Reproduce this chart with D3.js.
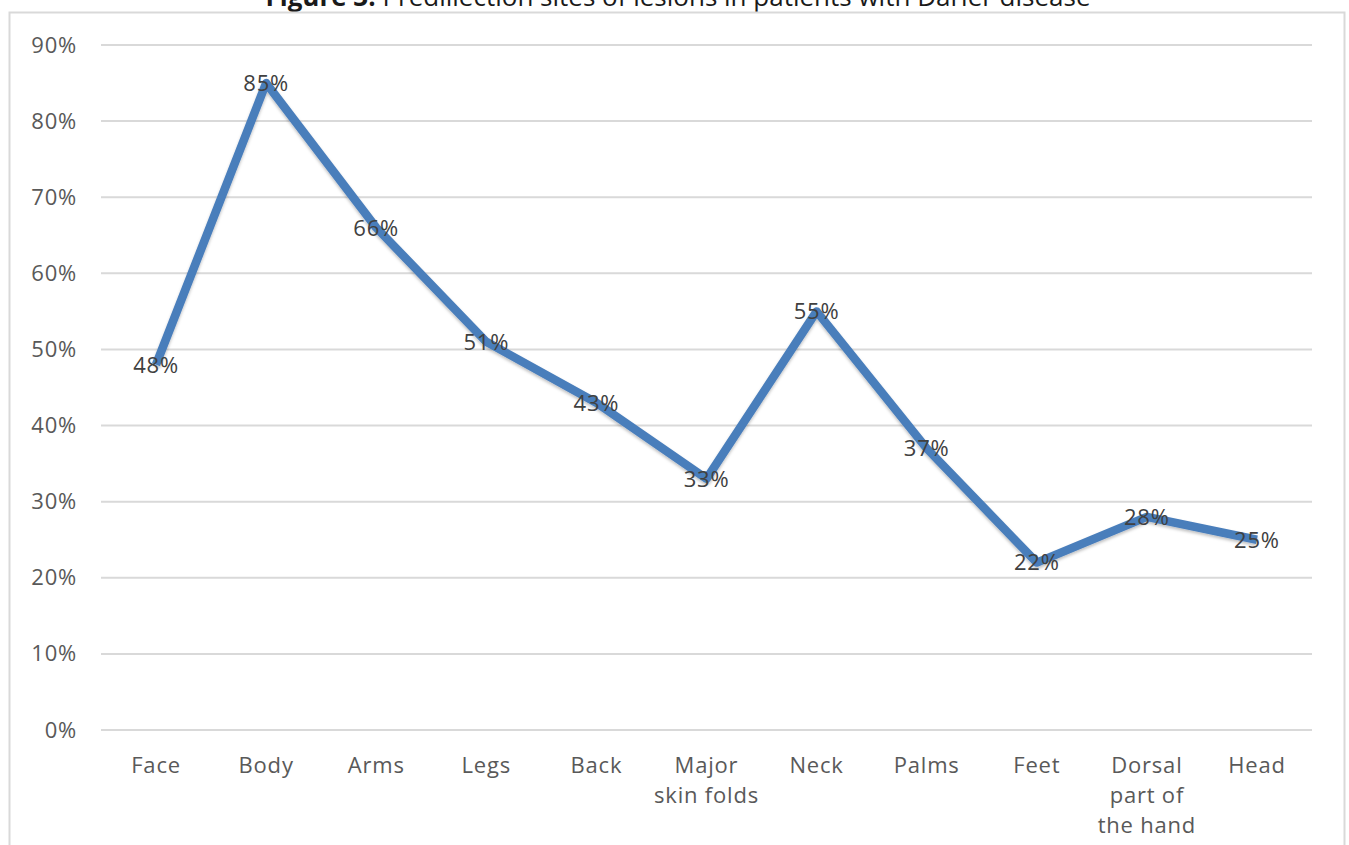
<!DOCTYPE html>
<html>
<head>
<meta charset="utf-8">
<script src="https://cdn.jsdelivr.net/npm/d3@7"></script>
<style>
  html, body { margin: 0; padding: 0; background: #fff; }
  svg { display: block; }
</style>
</head>
<body>
<svg id="chart" width="1349" height="845"></svg>
<script>
// Lesion sites (multi-line labels split on "|")
const categories = ["Face", "Body", "Arms", "Legs", "Back", "Major|skin folds", "Neck", "Palms", "Feet", "Dorsal|part of|the hand", "Head"];
const shares = [0.48, 0.85, 0.66, 0.51, 0.43, 0.33, 0.55, 0.37, 0.22, 0.28, 0.25];
const yTicks = [0, 0.1, 0.2, 0.3, 0.4, 0.5, 0.6, 0.7, 0.8, 0.9];

const svg = d3.select("#chart");
const font = "'Open Sans', 'DejaVu Sans', sans-serif";
const labelSize = 22;
const spacing = 0.8;

// Title (partly above the visible area)
const title = svg.append("text")
  .attr("x", 678).attr("y", 6)
  .attr("text-anchor", "middle")
  .attr("font-family", font)
  .attr("font-size", 26)
  .attr("fill", "#1a1a1a");
title.append("tspan").attr("font-weight", "bold").text("Figure 3.");
title.append("tspan").text(" Prediliection sites of lesions in patients with Darier disease");

// Chart frame
svg.append("rect")
  .attr("x", 9.5).attr("y", 12.5)
  .attr("width", 1335).attr("height", 900)
  .attr("fill", "none")
  .attr("stroke", "#d9d9d9")
  .attr("stroke-width", 2);

const x = d3.scaleBand().domain(categories).range([101, 1312]);
const y = d3.scaleLinear().domain([0, 0.9]).range([730, 45]);

// Horizontal gridlines
svg.append("g")
  .selectAll("line")
  .data(yTicks)
  .join("line")
  .attr("x1", 101).attr("x2", 1312)
  .attr("y1", d => y(d)).attr("y2", d => y(d))
  .attr("stroke", "#d9d9d9")
  .attr("stroke-width", 2);

// Y axis labels
const yAxis = svg.append("g")
  .attr("transform", "translate(86,0)")
  .call(d3.axisLeft(y).tickValues(yTicks).tickFormat(d3.format(".0%")).tickSize(0).tickPadding(9));
yAxis.select(".domain").remove();
yAxis.selectAll("text")
  .attr("font-family", font)
  .attr("font-size", labelSize)
  .attr("letter-spacing", spacing)
  .attr("fill", "#595959");

// X axis labels (wrapped)
const xAxis = svg.append("g")
  .attr("transform", "translate(0,730)")
  .call(d3.axisBottom(x).tickSize(0).tickFormat(""));
xAxis.select(".domain").remove();
xAxis.selectAll(".tick").each(function (d) {
  const t = d3.select(this).append("text")
    .attr("text-anchor", "middle")
    .attr("font-family", font)
    .attr("font-size", labelSize)
    .attr("letter-spacing", spacing)
    .attr("fill", "#595959");
  d.split("|").forEach((line, i) => {
    t.append("tspan").attr("x", 0).attr("y", 43 + i * 30).text(line);
  });
});

const cx = d => x(d) + x.bandwidth() / 2;

// Series line with soft shadow
const defs = svg.append("defs");
const f = defs.append("filter").attr("id", "shadow").attr("x", "-10%").attr("y", "-10%").attr("width", "120%").attr("height", "120%");
f.append("feDropShadow").attr("dx", 0).attr("dy", 2).attr("stdDeviation", 1.5).attr("flood-color", "#000").attr("flood-opacity", 0.25);

const line = d3.line()
  .x((d, i) => cx(categories[i]))
  .y(d => y(d));

svg.append("path")
  .datum(shares)
  .attr("d", line)
  .attr("fill", "none")
  .attr("stroke", "#4a7ebb")
  .attr("stroke-width", 8.5)
  .attr("stroke-linejoin", "round")
  .attr("filter", "url(#shadow)");

// Data labels centred on each point
svg.append("g")
  .selectAll("text")
  .data(shares)
  .join("text")
  .attr("x", (d, i) => cx(categories[i]))
  .attr("y", d => y(d))
  .attr("dy", "0.36em")
  .attr("text-anchor", "middle")
  .attr("font-family", font)
  .attr("font-size", labelSize)
  .attr("letter-spacing", spacing)
  .attr("fill", "#404040")
  .text(d => d3.format(".0%")(d));
</script>
</body>
</html>
